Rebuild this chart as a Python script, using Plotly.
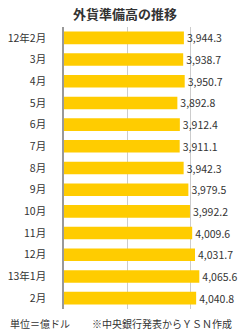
import plotly.graph_objects as go

categories = ["12年2月", "3月", "4月", "5月", "6月", "7月", "8月", "9月", "10月", "11月", "12月", "13年1月", "2月"]
values = [3944.3, 3938.7, 3950.7, 3892.8, 3912.4, 3911.1, 3942.3, 3979.5, 3992.2, 4009.6, 4031.7, 4065.6, 4040.8]
labels = [f"{v:,.1f}" for v in values]

FONT = "Noto Sans CJK JP"
BASE = 3000

fig = go.Figure(go.Bar(
    x=[v - BASE for v in values], y=categories, orientation="h",
    base=BASE,
    marker=dict(color="#FFCC00", line=dict(width=0)),
    text=labels, textposition="outside", cliponaxis=False, constraintext="none",
    textfont=dict(family=FONT, size=10.5, color="#333333"),
))

fig.update_layout(
    width=250, height=334,
    margin=dict(l=64, r=1, t=27, b=25),
    paper_bgcolor="white", plot_bgcolor="white",
    bargap=0.42,
    showlegend=False,
    uniformtext=dict(mode=False),
    title=dict(text="<b>外貨準備高の推移</b>", x=0.5, xanchor="center", y=0.958, yanchor="middle",
               font=dict(family=FONT, size=13, color="#333333")),
    xaxis=dict(range=[3000, 4457], tickvals=[3500, 4000], showticklabels=False,
               showgrid=True, gridcolor="#cccccc", gridwidth=1, zeroline=False,
               showline=False, fixedrange=True),
    yaxis=dict(autorange="reversed", showline=True, linecolor="#999999", linewidth=1.5,
               tickfont=dict(family=FONT, size=10.5, color="#333333"),
               ticks="", ticklabelstandoff=14, showgrid=False),
)

pw = 250 - 64 - 1
ph = 334 - 27 - 25
for txt, px in [("単位＝億ドル", 8), ("※中央銀行発表からＹＳＮ作成", 90)]:
    fig.add_annotation(text=txt, x=(px - 64) / pw, y=(334 - 25 - 323) / ph,
                       xref="paper", yref="paper", showarrow=False,
                       xanchor="left", yanchor="middle",
                       font=dict(family=FONT, size=10, color="#333333"))

fig.write_html("out.html")
